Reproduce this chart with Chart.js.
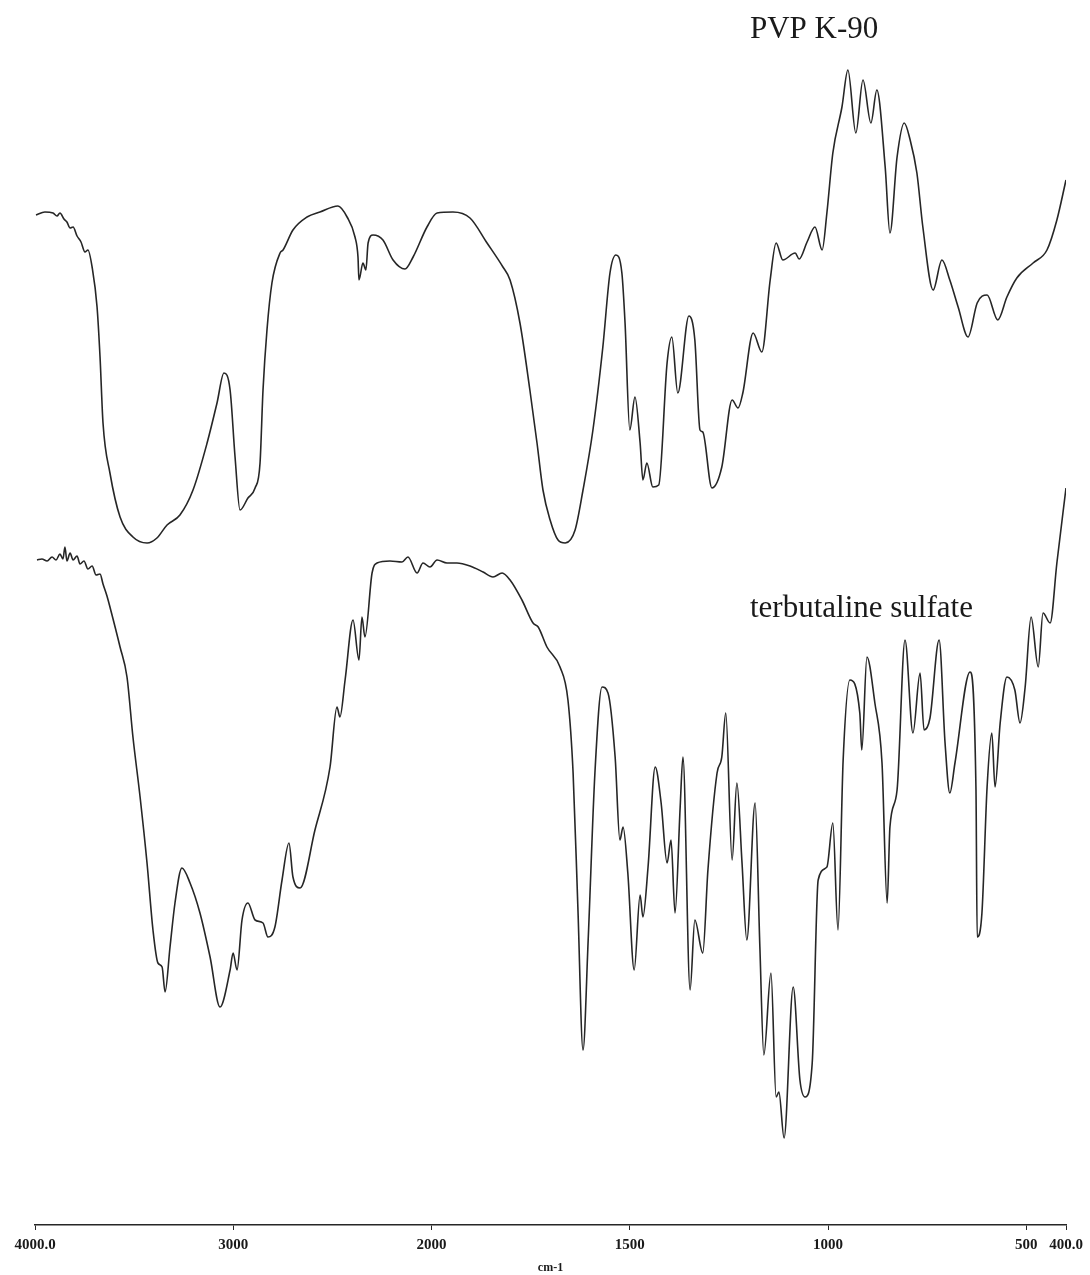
<!DOCTYPE html>
<html>
<head>
<meta charset="utf-8">
<script src="https://cdn.jsdelivr.net/npm/chart.js@4"></script>
<style>
  body { margin: 0; background: #fff; }
  #wrap { width: 1090px; height: 1275px; position: relative; }
</style>
</head>
<body>
<div id="wrap"><canvas id="ir"></canvas></div>
<script>
// wavenumbers (cm-1) and relative transmittance (arbitrary units, offset traces)
const pvpWn = [3995,3950,3909,3889,3874,3854,3839,3823,3808,3788,3768,3748,3733,3712,3687,3672,3657,3622,3571,3506,3435,3385,3334,3269,3203,3132,3082,3047,3016,2991,2966,2926,2890,2865,2850,2830,2805,2764,2749,2699,2628,2563,2472,2426,2386,2371,2366,2346,2331,2320,2295,2245,2194,2134,2093,2023,1986,1946,1903,1860,1820,1802,1777,1752,1734,1719,1701,1681,1663,1638,1618,1593,1568,1550,1535,1520,1512,1500,1487,1474,1467,1457,1442,1427,1406,1394,1379,1351,1336,1323,1316,1293,1268,1242,1227,1215,1189,1167,1146,1131,1114,1083,1073,1053,1033,1015,1003,988,965,950,930,912,892,877,856,844,826,808,793,776,761,735,713,693,672,647,624,599,572,549,524,483,448,423,400]
const pvpT = [1010,1013,1012,1009,1012,1006,1003,997,998,989,983,973,975,958,918,868,802,752,708,688,682,687,700,710,735,782,822,852,835,768,715,727,737,762,835,895,942,972,975,995,1008,1013,1019,1008,988,968,945,962,955,982,990,985,965,956,968,998,1012,1013,1007,982,958,945,902,835,782,735,705,685,682,695,735,795,878,952,970,952,902,795,828,782,745,762,738,740,862,888,832,909,885,795,793,737,758,825,817,832,892,873,945,982,965,972,966,983,998,975,1012,1072,1118,1155,1092,1145,1102,1135,1058,992,1068,1102,1085,1052,998,935,965,945,918,888,922,930,905,928,947,962,975,1005,1045]

const terbWn = [3990,3965,3939,3914,3894,3874,3859,3849,3839,3823,3808,3788,3773,3753,3733,3712,3692,3672,3657,3637,3622,3571,3536,3506,3470,3435,3405,3380,3359,3344,3319,3294,3259,3218,3168,3117,3067,3016,3001,2981,2956,2926,2890,2850,2825,2790,2754,2719,2699,2663,2588,2512,2477,2462,2436,2396,2366,2351,2336,2300,2275,2210,2149,2119,2073,2043,2008,1986,1961,1936,1903,1870,1845,1822,1802,1772,1744,1731,1709,1676,1656,1643,1631,1618,1605,1588,1570,1555,1537,1525,1517,1505,1489,1474,1467,1454,1436,1421,1406,1396,1386,1373,1366,1348,1336,1316,1303,1280,1268,1258,1242,1230,1217,1205,1184,1172,1162,1144,1131,1124,1111,1088,1071,1058,1040,1025,1003,988,975,962,945,920,915,902,882,864,851,844,826,806,786,768,758,743,720,705,693,680,642,627,624,612,599,587,579,566,549,529,516,503,488,470,458,440,423,400]
const terbT = [665,666,664,668,665,671,666,678,664,672,665,669,661,664,656,659,650,651,641,629,618,578,548,488,428,362,295,262,258,233,278,322,357,342,312,268,218,255,272,255,305,322,305,302,288,298,345,382,348,337,395,458,518,508,545,605,565,608,588,652,662,664,663,668,652,662,658,665,662,662,659,653,648,652,645,625,602,598,578,558,525,452,318,175,285,452,538,532,468,385,398,352,255,330,308,358,458,422,362,385,312,418,468,235,305,272,355,452,468,512,365,442,362,285,422,278,170,252,128,133,87,238,145,128,162,345,358,402,295,465,545,512,475,568,522,462,322,398,435,585,492,552,495,507,585,482,432,462,553,435,288,312,438,492,438,502,548,535,502,538,608,558,612,602,662,737]

const tickWn = [4000, 3000, 2000, 1500, 1000, 500, 400]
const tickText = ['4000.0', '3000', '2000', '1500', '1000', '500', '400.0']

const labelText = ['PVP K-90', 'terbutaline sulfate']
const labelWn = [1197, 1197]
const labelT = [1187, 608]

// instrument scale: 2000-400 cm-1 is drawn at twice the spread of 4000-2000
function toU(w) {
    return w >= 2000 ? 4000 - w : 2000 + 2 * (2000 - w)
}

const ink = '#262626'

const labelsPlugin = {
    id: 'traceLabels',
    afterDatasetsDraw(chart) {
        const {ctx, scales: {x, y}} = chart
        ctx.save()
        ctx.fillStyle = '#1a1a1a'
        ctx.font = '31px "Liberation Serif"'
        ctx.textAlign = 'left'
        ctx.textBaseline = 'alphabetic'
        for (let i = 0; i < labelText.length; i++) {
            ctx.fillText(labelText[i], x.getPixelForValue(toU(labelWn[i])), y.getPixelForValue(labelT[i]))
        }
        ctx.restore()
    }
}

function trace(wn, t) {
    return wn.map((w, i) => ({x: toU(w), y: t[i]}))
}

const chart = new Chart(document.getElementById('ir'), {
    type: 'line',
    data: {
        datasets: [
            {label: 'PVP K-90', data: trace(pvpWn, pvpT)},
            {label: 'terbutaline sulfate', data: trace(terbWn, terbT)}
        ]
    },
    options: {
        responsive: true,
        maintainAspectRatio: false,
        animation: false,
        layout: {padding: {left: 35, right: 24, top: 0, bottom: 0}},
        elements: {
            point: {radius: 0},
            line: {borderColor: ink, borderWidth: 1.6, cubicInterpolationMode: 'monotone', fill: false}
        },
        plugins: {legend: {display: false}, tooltip: {enabled: false}},
        scales: {
            x: {
                type: 'linear',
                min: 0,
                max: toU(400),
                afterBuildTicks(axis) {
                    axis.ticks = tickWn.map(w => ({value: toU(w)}))
                },
                afterFit(axis) {
                    axis.height = 50
                },
                grid: {drawOnChartArea: false, drawTicks: true, tickLength: 5, color: ink, lineWidth: 1},
                border: {display: true, color: ink, width: 1.5},
                ticks: {
                    autoSkip: false,
                    maxRotation: 0,
                    padding: 6,
                    color: '#1a1a1a',
                    font: {family: '"Liberation Serif"', size: 15, weight: 'bold'},
                    callback(value) {
                        const i = tickWn.findIndex(w => toU(w) === value)
                        return i >= 0 ? tickText[i] : ''
                    }
                },
                title: {
                    display: true,
                    text: 'cm-1',
                    color: '#1a1a1a',
                    padding: {top: 0, bottom: 0},
                    font: {family: '"Liberation Serif"', size: 12, weight: 'bold'}
                }
            },
            y: {
                display: false,
                min: 0,
                max: 1225
            }
        }
    },
    plugins: [labelsPlugin]
})
</script>
</body>
</html>
